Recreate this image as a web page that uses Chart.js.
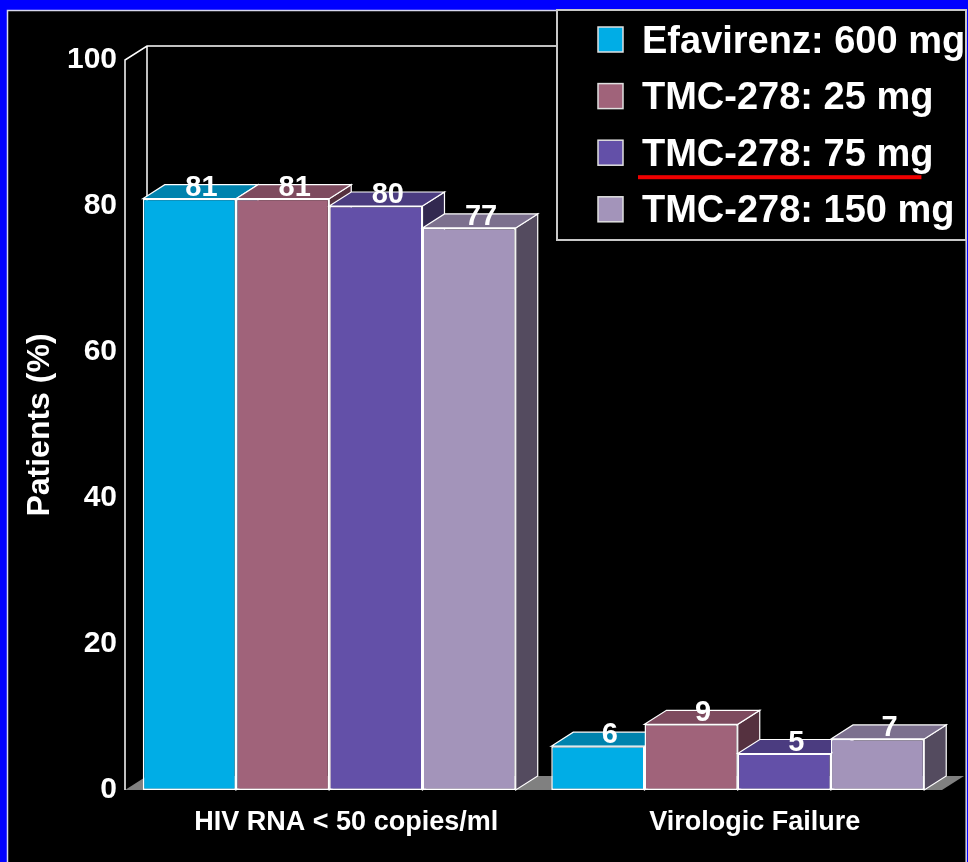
<!DOCTYPE html>
<html>
<head>
<meta charset="utf-8">
<title>Patients (%)</title>
<script src="https://cdn.jsdelivr.net/npm/chart.js@4/dist/chart.umd.min.js"></script>
<style>
  html, body { margin: 0; padding: 0; background: #000; overflow: hidden; }
  canvas { display: block; }
</style>
</head>
<body>
<canvas id="chart" width="968" height="862"></canvas>
<script>
// ---- data ----
const categories = ['HIV RNA < 50 copies/ml', 'Virologic Failure'];
const seriesNames = ['Efavirenz: 600 mg', 'TMC-278: 25 mg', 'TMC-278: 75 mg', 'TMC-278: 150 mg'];
const efavirenz600 = [81, 6];
const tmc278_25 = [81, 9];
const tmc278_75 = [80, 5];
const tmc278_150 = [77, 7];
const yTicks = [0, 20, 40, 60, 80, 100];
const highlightedSeries = 2;   // underlined in the legend

// ---- styling ----
const FONT = '"Liberation Sans", Arial, Helvetica, sans-serif';
const frontColors = ['#00ADE6', '#A0637A', '#6350A8', '#A394BA'];
const topColors   = ['#0083AE', '#7E4B5F', '#4B3C80', '#7C708E'];
const sideColors  = ['#00587A', '#55313F', '#322950', '#544B5F'];
const DEPTH_X = 22, DEPTH_Y = -14;   // oblique depth of the 3D box
const EDGE = '#FFFFFF';

const seriesValues = [efavirenz600, tmc278_25, tmc278_75, tmc278_150];

function poly(ctx, pts, fill, stroke, lw) {
  ctx.beginPath();
  ctx.moveTo(pts[0][0], pts[0][1]);
  for (let i = 1; i < pts.length; i++) ctx.lineTo(pts[i][0], pts[i][1]);
  ctx.closePath();
  if (fill) { ctx.fillStyle = fill; ctx.fill(); }
  if (stroke) { ctx.strokeStyle = stroke; ctx.lineWidth = lw || 1; ctx.stroke(); }
}

const scene3d = {
  id: 'scene3d',
  beforeDraw(chart) {
    const ctx = chart.ctx, W = chart.width, H = chart.height;
    ctx.save();
    ctx.fillStyle = '#0000FF';
    ctx.fillRect(0, 0, W, H);
    ctx.fillStyle = '#000';
    ctx.fillRect(7, 10, 960, H - 10);
    ctx.strokeStyle = '#D8D8F0';
    ctx.lineWidth = 1.5;
    ctx.beginPath();
    ctx.moveTo(7.5, H);
    ctx.lineTo(7.5, 10.5);
    ctx.lineTo(966.2, 10.5);
    ctx.lineTo(966.2, H);
    ctx.stroke();
    ctx.restore();
  },
  beforeDatasetsDraw(chart) {
    const ctx = chart.ctx;
    const x = chart.scales.x, y = chart.scales.y;
    const L = x.left, R = x.right;
    const y0 = y.getPixelForValue(yTicks[0]);
    const yTop = y.getPixelForValue(yTicks[yTicks.length - 1]);
    ctx.save();
    // floor
    poly(ctx, [[L, y0], [R, y0], [R + DEPTH_X, y0 + DEPTH_Y], [L + DEPTH_X, y0 + DEPTH_Y]], '#808080');
    // left wall and back wall edges
    ctx.strokeStyle = EDGE;
    ctx.lineWidth = 1.5;
    ctx.beginPath();
    ctx.moveTo(L, y0);
    ctx.lineTo(L, yTop);
    ctx.lineTo(L + DEPTH_X, yTop + DEPTH_Y);
    ctx.lineTo(R + DEPTH_X, yTop + DEPTH_Y);
    ctx.moveTo(L + DEPTH_X, yTop + DEPTH_Y);
    ctx.lineTo(L + DEPTH_X, y0 + DEPTH_Y);
    ctx.stroke();
    ctx.restore();
  },
  // bars are painted below, left to right, so each box hides its left neighbour's side
  beforeDatasetDraw() {
    return false;
  },
  afterDatasetsDraw(chart) {
    const ctx = chart.ctx;
    ctx.save();
    chart.data.datasets.forEach((ds, di) => {
      const meta = chart.getDatasetMeta(di);
      if (meta.hidden) return;
      meta.data.forEach(bar => {
        const l = bar.x - bar.width / 2, r = bar.x + bar.width / 2;
        const t = bar.y, b = bar.base;
        poly(ctx, [[r, t], [r + DEPTH_X, t + DEPTH_Y], [r + DEPTH_X, b + DEPTH_Y], [r, b]], sideColors[di], EDGE, 1.2);
        poly(ctx, [[l, t], [l + DEPTH_X, t + DEPTH_Y], [r + DEPTH_X, t + DEPTH_Y], [r, t]], topColors[di], EDGE, 1.2);
        bar.draw(ctx, chart.chartArea);
      });
    });
    // value labels
    ctx.font = 'bold 29px ' + FONT;
    ctx.fillStyle = '#FFFFFF';
    ctx.textAlign = 'center';
    ctx.textBaseline = 'alphabetic';
    chart.data.datasets.forEach((ds, di) => {
      chart.getDatasetMeta(di).data.forEach((bar, i) => {
        ctx.fillText(String(ds.data[i]), bar.x + 12, bar.y - 3);
      });
    });
    ctx.restore();
  },
  afterDraw(chart) {
    // legend panel
    const ctx = chart.ctx;
    const bx = 557, by = 10, bw = 409, bh = 230;
    ctx.save();
    ctx.fillStyle = '#000';
    ctx.fillRect(bx, by, bw, bh);
    ctx.strokeStyle = '#C8C8C8';
    ctx.lineWidth = 2;
    ctx.strokeRect(bx, by, bw, bh);
    ctx.font = 'bold 38px ' + FONT;
    ctx.textAlign = 'left';
    ctx.textBaseline = 'alphabetic';
    chart.data.datasets.forEach((ds, i) => {
      const cy = 39.5 + i * 56.6;
      ctx.fillStyle = frontColors[i];
      ctx.fillRect(598, cy - 12.5, 25, 25);
      ctx.strokeStyle = '#E0E0E0';
      ctx.lineWidth = 1.5;
      ctx.strokeRect(598, cy - 12.5, 25, 25);
      ctx.fillStyle = '#FFFFFF';
      ctx.fillText(ds.label, 642, cy + 13);
      if (i === highlightedSeries) {
        const w = ctx.measureText(ds.label).width;
        ctx.fillStyle = '#F00000';
        ctx.fillRect(638, cy + 22.5, w - 8, 4);
      }
    });
    ctx.restore();
  }
};

new Chart(document.getElementById('chart'), {
  type: 'bar',
  data: {
    labels: categories,
    datasets: seriesNames.map((name, i) => ({
      label: name,
      data: seriesValues[i],
      backgroundColor: frontColors[i],
      borderColor: EDGE,
      borderWidth: 1.5,
      borderSkipped: false,
      categoryPercentage: 0.913,
      barPercentage: 1.0
    }))
  },
  options: {
    responsive: false,
    animation: false,
    devicePixelRatio: 1,
    layout: { padding: { left: 0, top: 60, right: 26, bottom: 0 } },
    plugins: {
      legend: { display: false },
      tooltip: { enabled: false }
    },
    scales: {
      x: {
        grid: { display: false, drawTicks: false },
        border: { display: false },
        ticks: {
          color: '#FFFFFF',
          font: { family: FONT, size: 27, weight: 'bold' },
          padding: 16,
          labelOffset: 17,
          maxRotation: 0,
          autoSkip: false
        },
        afterFit(scale) { scale.height = 72; }
      },
      y: {
        min: yTicks[0],
        max: yTicks[yTicks.length - 1],
        grid: { display: false, drawTicks: false },
        border: { display: false },
        afterBuildTicks(scale) { scale.ticks = yTicks.map(v => ({ value: v })); },
        ticks: {
          color: '#FFFFFF',
          font: { family: FONT, size: 30, weight: 'bold' },
          padding: 8
        },
        title: {
          display: true,
          text: 'Patients (%)',
          color: '#FFFFFF',
          font: { family: FONT, size: 32, weight: 'bold' },
          padding: { top: 21, bottom: 0 }
        },
        afterFit(scale) { scale.width = 125; }
      }
    }
  },
  plugins: [scene3d]
});
</script>
</body>
</html>
